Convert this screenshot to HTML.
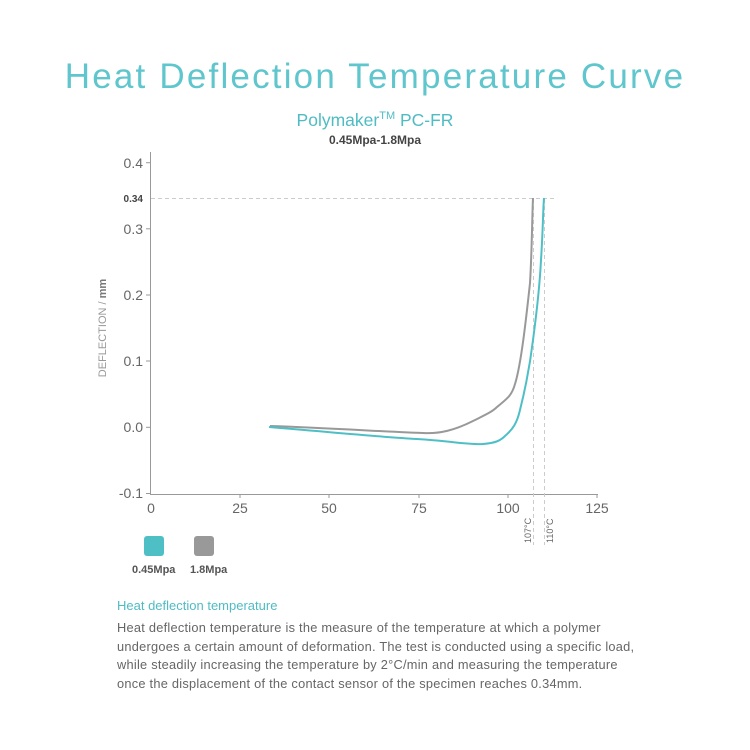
<!DOCTYPE html>
<html><head><style>
body{margin:0;width:750px;height:750px;background:#fff;font-family:"Liberation Sans",sans-serif;overflow:hidden;position:relative}
.t{position:absolute;left:0;width:750px;text-align:center}
</style></head><body>
<div class="t" style="top:57px;font-size:35px;color:#5ec6cc;letter-spacing:2.2px">Heat Deflection Temperature Curve</div>
<div class="t" style="top:110px;font-size:17.5px;color:#4fbcc4">Polymaker<sup style="font-size:11px">TM</sup> PC-FR</div>
<div class="t" style="top:133px;font-size:12px;color:#444;font-weight:bold">0.45Mpa-1.8Mpa</div>
<svg width="750" height="750" style="position:absolute;left:0;top:0" font-family="Liberation Sans, sans-serif">
<g stroke="#999" stroke-width="1" fill="none">
<line x1="150.5" y1="152" x2="150.5" y2="494"/>
<line x1="150" y1="494.5" x2="598" y2="494.5"/>
<line x1="146" y1="162.7" x2="150" y2="162.7"/><line x1="146" y1="228.8" x2="150" y2="228.8"/><line x1="146" y1="295" x2="150" y2="295"/><line x1="146" y1="361" x2="150" y2="361"/><line x1="146" y1="427.3" x2="150" y2="427.3"/><line x1="146" y1="493.5" x2="150" y2="493.5"/>
<line x1="240" y1="494" x2="240" y2="498"/><line x1="329" y1="494" x2="329" y2="498"/><line x1="419" y1="494" x2="419" y2="498"/><line x1="508" y1="494" x2="508" y2="498"/><line x1="597" y1="494" x2="597" y2="498"/>
</g>
<g stroke="#ccc" stroke-dasharray="4,3" fill="none">
<line x1="151" y1="198.5" x2="555" y2="198.5"/>
<line x1="533.5" y1="199" x2="533.5" y2="545"/>
<line x1="544.5" y1="199" x2="544.5" y2="545"/>
</g>
<g font-size="14" fill="#666" text-anchor="end">
<text x="143" y="168">0.4</text><text x="143" y="234">0.3</text><text x="143" y="300">0.2</text><text x="143" y="366">0.1</text><text x="143" y="432">0.0</text><text x="143" y="498">-0.1</text>
<text x="143" y="202" font-size="10" font-weight="bold" fill="#444">0.34</text>
</g>
<g font-size="14" fill="#666" text-anchor="middle">
<text x="151" y="513">0</text><text x="240" y="513">25</text><text x="329" y="513">50</text><text x="419" y="513">75</text><text x="508" y="513">100</text><text x="597" y="513">125</text>
</g>
<text transform="translate(106,328) rotate(-90)" font-size="11" fill="#999" text-anchor="middle">DEFLECTION / <tspan font-weight="bold" fill="#777">mm</tspan></text>
<text transform="translate(531,543) rotate(-90)" font-size="9" fill="#666">107°C</text>
<text transform="translate(553,543) rotate(-90)" font-size="9" fill="#666">110°C</text>
<path d="M270,426 C330,428 390,432 423,433 C440,434 455,430 473,421 C485,415 492,412 497,407 C508,398 512,395 515,384 C521,365 526,320 530,283 C532,250 532,220 533,198" stroke="#999" stroke-width="2" fill="none"/>
<path d="M269,427 C330,432 380,437 417,439 C450,441 470,445 483,444 C495,443 500,441 505,436 C513,429 517,423 520,410 C525,390 530,365 533,340 C537,310 540,280 541,260 C543,230 543,210 544,198" stroke="#4fbfc6" stroke-width="2" fill="none"/>
<rect x="144" y="536" width="20" height="20" rx="3" fill="#4fbfc6"/>
<rect x="194" y="536" width="20" height="20" rx="3" fill="#999"/>
<text x="132" y="573" font-size="11" font-weight="bold" fill="#555">0.45Mpa</text>
<text x="190" y="573" font-size="11" font-weight="bold" fill="#555">1.8Mpa</text>
</svg>
<div style="position:absolute;left:117px;top:598px;font-size:13px;color:#4fbcc4">Heat deflection temperature</div>
<div style="position:absolute;left:117px;top:619px;width:525px;font-size:12.8px;line-height:18.5px;color:#666;letter-spacing:0.25px">Heat deflection temperature is the measure of the temperature at which a polymer undergoes a certain amount of deformation. The test is conducted using a specific load, while steadily increasing the temperature by 2°C/min and measuring the temperature once the displacement of the contact sensor of the specimen reaches 0.34mm.</div>
</body></html>
